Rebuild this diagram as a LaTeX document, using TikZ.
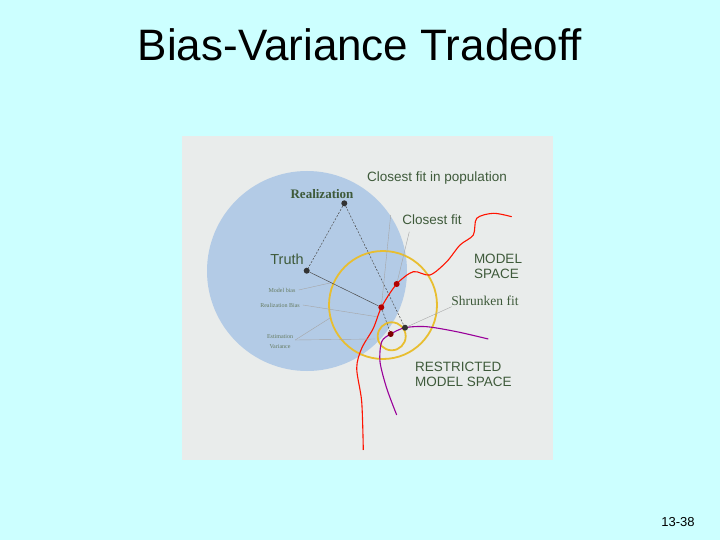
\documentclass[tikz,border=0pt]{standalone}
\usepackage{fontspec}
\setmainfont{Liberation Sans}
\newfontfamily\serifl{Liberation Serif}
\definecolor{bg}{HTML}{CCFFFF}
\definecolor{panel}{HTML}{E9ECEB}
\definecolor{blob}{HTML}{B3CBE6}
\definecolor{txt}{HTML}{3E5A3A}
\definecolor{gold}{HTML}{E8BE30}
\begin{document}
\begin{tikzpicture}[x=1pt,y=-1pt,
  lbl/.style={text=txt,font=\fontsize{13.5}{15}\selectfont,inner sep=0},
  slbl/.style={text=txt,font=\serifl\fontsize{13.5}{15}\selectfont,inner sep=0},
  tiny/.style={text=txt!80,font=\serifl\fontsize{6}{7}\selectfont,inner sep=0,align=center},
  lead/.style={gray!70,line width=0.4pt},
  dsh/.style={black!70,dashed,dash pattern=on 2pt off 1.5pt,line width=0.5pt},
  dot/.style={circle,fill=#1,inner sep=0,minimum size=6pt},
  ring/.style={draw=gold,line width=1.8pt}]
\fill[bg] (0,0) rectangle (720,540);
\useasboundingbox (0,0) rectangle (720,540);
\node (title) at (360,45) {\fontsize{44}{48}\selectfont Bias-Variance Tradeoff};
\node (pg) at (678,522) {\fontsize{13}{14}\selectfont 13-38};
\fill[panel] (182,136) rectangle (553,460);
\fill[blob] (307,271) circle (100);
\draw[ring] (383,305) circle (54);
\draw[ring] (391.7,336.3) circle (14);
% curves
\draw[red!85!orange,line width=1.1pt] plot[smooth] coordinates {(363.3,450) (361.7,401.7) (356.7,368.3) (361.7,348.3) (373.3,328.3) (381.7,306.7) (396.7,284) (413.3,271.7) (430,275) (446.7,261.7) (460,245) (473.3,235) (476.7,218.3) (493.3,213.3) (511.7,216.7)};
\draw[violet!80!magenta,line width=1.1pt] plot[smooth] coordinates {(396.7,415) (386.7,388.3) (380,361.7) (381.7,341.7) (390.7,334) (405,327.7) (426.7,326.7) (456.7,331.7) (488.3,339)};
% points
\node[dot=black!80] (real) at (344.3,203.3) {};
\node[dot=black!80] (truth) at (306.7,270.7) {};
\node[dot=red!70!black] (cfp) at (381.3,307.3) {};
\node[dot=red!70!black] (cf) at (396.7,284) {};
\node[dot=black!80] (shr) at (405,327.7) {};
\node[dot=red!50!black] (est) at (390.7,334) {};
\draw[dsh] (real) -- (truth);
\draw[dsh] (real) -- (shr);
\draw[black!70,line width=0.5pt] (truth) -- (cfp);
\draw[dsh] (cfp) -- (est);
% labels
\node[slbl,font=\serifl\bfseries\fontsize{13}{15}\selectfont] (lreal) at (322,194) {Realization};
\node[lbl,font=\fontsize{14.5}{16}\selectfont] (ltruth) at (287,259) {Truth};
\node[lbl] (lcfp) at (437,178) {Closest fit in population};
\node[lbl] (lcf) at (432,220) {Closest fit};
\node[lbl,align=left] (lms) at (498,266) {MODEL\\SPACE};
\node[slbl] (lshr) at (485,301) {Shrunken fit};
\node[lbl,align=left,anchor=west] (lrms) at (415,374.5) {RESTRICTED\\MODEL SPACE};
\node[tiny] (lmb) at (282,290) {Model bias};
\node[tiny] (lrb) at (280,305) {Realization Bias};
\node[tiny] (lev) at (280,342) {Estimation\\[3pt]Variance};
\coordinate (a1) at (390.7,215);
\coordinate (a2) at (409.3,231.7);
\coordinate (a3) at (451.7,306.7);
\draw[lead] (a1) -- (cfp);
\draw[lead] (a2) -- (cf);
\draw[lead] (a3) -- (shr);
\draw[lead] (lmb.east) ++(3,0) -- (330,283);
\draw[lead] (lrb.east) ++(3,0) -- (376.7,316.7);
\draw[lead] (lev.east) ++(2,-2) -- (330,318);
\draw[lead] (lev.east) ++(2,-2) -- (375,339);
\end{tikzpicture}
\end{document}
